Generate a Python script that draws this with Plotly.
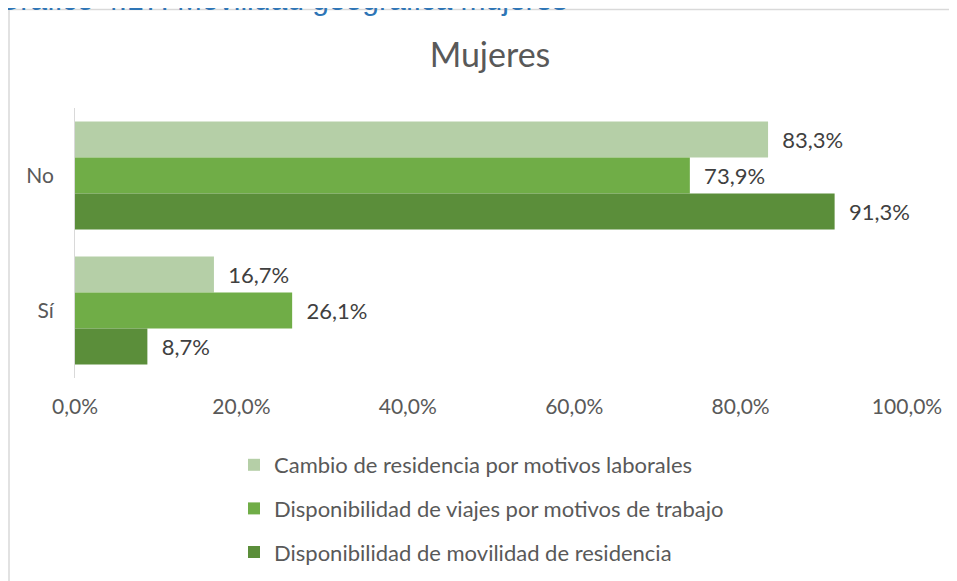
import plotly.graph_objects as go

categories = ["No", "Sí"]
series_names = [
    "Cambio de residencia por motivos laborales",
    "Disponibilidad de viajes por motivos de trabajo",
    "Disponibilidad de movilidad de residencia",
]
cambio_residencia = [83.3, 16.7]
viajes_trabajo = [73.9, 26.1]
movilidad_residencia = [91.3, 8.7]
x_ticks = [0, 20, 40, 60, 80, 100]
x_tick_labels = ["0,0%", "20,0%", "40,0%", "60,0%", "80,0%", "100,0%"]

colors = ["#B5CFA7", "#70AD47", "#5B8E3A"]
font_family = "Lato, 'Open Sans', sans-serif"

# the page puts the figure 8px in from the top-left corner, so the layout is
# laid out 8px up and left of where it should land
L, T = 67, 100          # plot area origin inside the figure
PW, PH = 832, 270       # plot area size


def px_x(x):
    return (x - L) / PW


def px_y(y):
    return (T + PH - y) / PH


fig = go.Figure()
for i, (name, vals) in enumerate(zip(series_names,
                                     [cambio_residencia, viajes_trabajo, movilidad_residencia])):
    fig.add_trace(go.Bar(
        y=categories,
        x=vals,
        name=name,
        orientation="h",
        marker=dict(color=colors[i], line=dict(width=0)),
        texttemplate="\u00a0\u00a0%{x:.1f}%",
        textposition="outside",
        textfont=dict(size=22, color="#404040", family=font_family),
        cliponaxis=False,
        legendgroup=f"g{i}",
    ))

fig.update_layout(
    width=957,
    height=581,
    paper_bgcolor="white",
    plot_bgcolor="white",
    separators=",.",
    barmode="group",
    bargap=0.2,
    bargroupgap=0,
    margin=dict(l=L, r=957 - L - PW, t=T, b=581 - T - PH, autoexpand=False),
    font=dict(family=font_family, color="#595959"),
    title=dict(
        text="Mujeres",
        x=482 / 957,
        xanchor="center",
        y=1 - 47 / 581,
        yanchor="middle",
        font=dict(size=34, color="#595959", family=font_family),
    ),
    xaxis=dict(
        range=[0, 100],
        tickvals=x_ticks,
        ticktext=x_tick_labels,
        showgrid=False,
        zeroline=False,
        showline=False,
        ticks="",
        ticklabelstandoff=14,
        tickfont=dict(size=21, color="#595959"),
        automargin=False,
        fixedrange=True,
    ),
    yaxis=dict(
        categoryorder="array",
        categoryarray=categories,
        autorange="reversed",
        showline=True,
        linecolor="#D9D9D9",
        linewidth=1,
        showgrid=False,
        ticks="",
        ticklabelstandoff=16,
        tickfont=dict(size=21, color="#595959"),
        automargin=False,
    ),
    legend=dict(
        orientation="v",
        x=px_x(226),
        xanchor="left",
        y=px_y(436),
        yanchor="top",
        traceorder="grouped",
        tracegroupgap=12,
        font=dict(size=22, color="#595959", family=font_family),
        itemwidth=30,
        bgcolor="rgba(0,0,0,0)",
    ),
    showlegend=True,
)

# chart frame
fig.add_shape(
    type="rect",
    xref="paper", yref="paper",
    x0=px_x(1), x1=px_x(946),
    y0=px_y(640), y1=px_y(1.5),
    line=dict(color="#D9D9D9", width=1.5),
    fillcolor="rgba(0,0,0,0)",
    layer="below",
)

# document heading, cut off at the top of the picture
fig.add_annotation(
    text="Gráfico 4.17. Movilidad geográfica mujeres",
    xref="paper", yref="paper",
    x=px_x(-13), xanchor="left",
    y=px_y(10.5), yanchor="bottom",
    showarrow=False,
    font=dict(size=30, color="#2E75B6", family="'Liberation Sans', Arial, sans-serif"),
)

fig.write_html("out.html")
